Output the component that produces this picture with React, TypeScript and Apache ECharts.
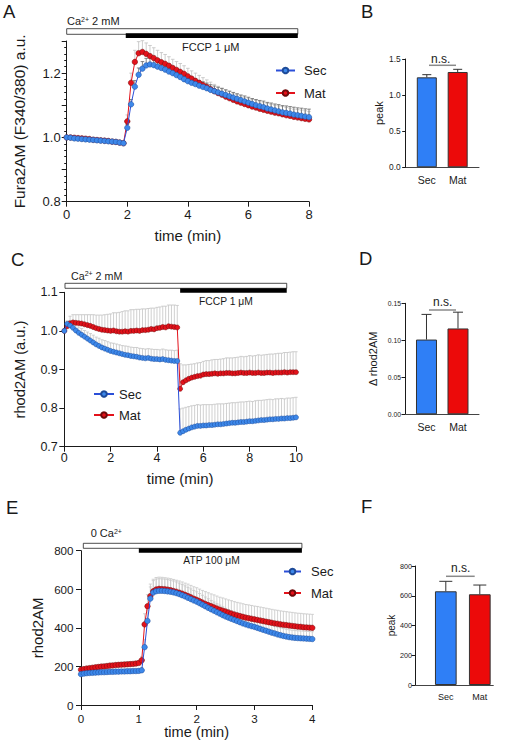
import React, { useEffect, useRef } from "react";
import * as echarts from "echarts";

const FONT = "'Liberation Sans', Arial, Helvetica, sans-serif";
const INK = "#1a1a1a";
const SEC_FILL = "#3d88ea";
const SEC_LINE = "#2b4fd8";
const SEC_EDGE = "#1d4a98";
const MAT_FILL = "#e3121b";
const MAT_LINE = "#e3121b";
const MAT_EDGE = "#6e0a0a";
const BAR_BLUE = "#2f7ff6";
const BAR_RED = "#ec0a0a";

const SERIES_NAMES = ["Sec", "Mat"];
const BAR_CATS = ["Sec", "Mat"];

// ---------- Panel A : Fura2AM, sampled every 0.125 min ----------
const A_T0 = 0;
const A_DT = 0.125;
const A_SEC = [
  1.0, 0.999, 0.997, 0.996, 0.995, 0.994, 0.993, 0.992, 0.991, 0.99, 0.989, 0.988, 0.987, 0.986, 0.984, 0.982,
  1.03, 1.103, 1.158, 1.195, 1.214, 1.224, 1.227, 1.225,
  1.22, 1.216, 1.211, 1.205, 1.2, 1.194, 1.188, 1.181, 1.175,
  1.17, 1.166, 1.161, 1.157, 1.153, 1.148, 1.144, 1.14, 1.136, 1.132, 1.128, 1.124, 1.12, 1.116, 1.112, 1.108,
  1.104, 1.1, 1.097, 1.094, 1.09, 1.087, 1.084, 1.081, 1.078, 1.076, 1.074, 1.071, 1.069, 1.067, 1.065, 1.063,
];
const A_MAT = [
  1.0, 1.0, 0.999, 0.998, 0.997, 0.996, 0.995, 0.993, 0.992, 0.991, 0.99, 0.989, 0.987, 0.986, 0.984, 0.982,
  1.05, 1.17, 1.235, 1.262, 1.266, 1.26, 1.253, 1.247, 1.24, 1.234, 1.229, 1.223, 1.216, 1.21, 1.204, 1.198,
  1.19, 1.183, 1.176, 1.17, 1.163, 1.157, 1.15, 1.144, 1.138, 1.133, 1.127, 1.122, 1.117, 1.112, 1.108, 1.104,
  1.1, 1.096, 1.093, 1.089, 1.086, 1.083, 1.08, 1.077, 1.075, 1.072, 1.069, 1.067, 1.064, 1.062, 1.06, 1.058, 1.056,
];
const A_SEC_ERR = [
  0.003, 0.003, 0.003, 0.003, 0.003, 0.003, 0.003, 0.003, 0.003, 0.003, 0.003, 0.003, 0.003, 0.003, 0.003, 0.003,
  0.01, 0.015, 0.019, 0.021, 0.022, 0.022, 0.022, 0.021, 0.021, 0.02,
  0.02, 0.019, 0.019, 0.018, 0.018, 0.018, 0.017, 0.017, 0.017, 0.016,
  0.016, 0.016, 0.016, 0.016, 0.016, 0.016, 0.016, 0.016, 0.016, 0.016,
  0.016, 0.017, 0.017, 0.017, 0.018, 0.018, 0.019, 0.019, 0.02, 0.02,
  0.021, 0.021, 0.022, 0.022, 0.023, 0.023, 0.024, 0.024, 0.025,
];
const A_MAT_ERR = [
  0.004, 0.004, 0.004, 0.004, 0.004, 0.004, 0.004, 0.004, 0.004, 0.004, 0.004, 0.004, 0.004, 0.004, 0.004, 0.004,
  0.02, 0.03, 0.036, 0.036, 0.035, 0.034, 0.033, 0.032, 0.031, 0.03, 0.029, 0.028, 0.027, 0.026, 0.026, 0.025,
  0.025, 0.024, 0.024, 0.023, 0.023, 0.022, 0.022, 0.021, 0.021,
  0.021, 0.021, 0.021, 0.021, 0.021, 0.021, 0.021, 0.022, 0.022, 0.022, 0.022, 0.022,
  0.023, 0.023, 0.023, 0.023, 0.024, 0.024, 0.024, 0.024, 0.025, 0.025, 0.025, 0.025,
];
const A_Y_LABELS = [0.8, 1.0, 1.2];
const A_STIM = [
  [0, 7.63, 0],
  [1.95, 7.63, 1],
];

// ---------- Panel C : rhod2AM (a.u.), sampled every 0.125 min ----------
const C_T0 = 0;
const C_DT = 0.125;
const C_SEC = [
  1.0, 1.018, 1.014, 1.008, 1.001, 0.995, 0.99, 0.985, 0.98, 0.975,
  0.97, 0.965, 0.961, 0.957, 0.954, 0.951, 0.948, 0.946, 0.944, 0.942,
  0.94, 0.938, 0.937, 0.935, 0.934, 0.933, 0.931, 0.93, 0.929, 0.93,
  0.928, 0.927, 0.927, 0.926, 0.927, 0.925, 0.924, 0.923, 0.922, 0.922,
  0.736, 0.74, 0.744, 0.747, 0.75, 0.752, 0.754, 0.754, 0.755, 0.755,
  0.756, 0.756, 0.757, 0.758, 0.758, 0.759, 0.76, 0.761, 0.762, 0.762,
  0.763, 0.764, 0.764, 0.765, 0.766, 0.766, 0.767, 0.768, 0.769, 0.769,
  0.77, 0.771, 0.771, 0.772, 0.772, 0.773, 0.773, 0.774, 0.774, 0.775, 0.776,
];
const C_MAT = [
  1.0, 1.012, 1.02, 1.022, 1.021, 1.02, 1.019, 1.017, 1.015, 1.013,
  1.01, 1.007, 1.005, 1.003, 1.002, 1.001, 1.0, 1.001, 0.999, 0.998,
  0.998, 0.999, 0.998, 1.0, 1.0, 1.001, 1.0, 1.002, 1.002, 1.003,
  1.005, 1.004, 1.007, 1.008, 1.01, 1.009, 1.012, 1.011, 1.01, 1.009,
  0.85, 0.867, 0.872, 0.876, 0.879, 0.881, 0.883, 0.884, 0.887, 0.888,
  0.888, 0.889, 0.89, 0.889, 0.89, 0.89, 0.891, 0.891, 0.89, 0.89,
  0.891, 0.892, 0.891, 0.891, 0.892, 0.891, 0.891, 0.892, 0.891, 0.891,
  0.892, 0.892, 0.891, 0.892, 0.892, 0.892, 0.893, 0.892, 0.893, 0.893, 0.893,
];
const C_SEC_ERR = [
  0.0, 0.008, 0.011, 0.013, 0.014, 0.015, 0.016, 0.016, 0.017, 0.018,
  0.019, 0.019, 0.02, 0.02, 0.021, 0.021, 0.021, 0.022, 0.022, 0.022,
  0.022, 0.023, 0.023, 0.023, 0.023, 0.024, 0.024, 0.024, 0.024, 0.024,
  0.025, 0.025, 0.025, 0.025, 0.026, 0.026, 0.026, 0.027, 0.027, 0.028,
  0.062, 0.06, 0.058, 0.057, 0.056, 0.055, 0.055, 0.054, 0.054, 0.054,
  0.053, 0.053, 0.053, 0.053, 0.053, 0.052, 0.052, 0.052, 0.052, 0.052,
  0.052, 0.052, 0.052, 0.052, 0.052, 0.051, 0.052, 0.052, 0.051, 0.052,
  0.052, 0.052, 0.051, 0.052, 0.052, 0.052, 0.051, 0.052, 0.052, 0.052, 0.052,
];
const C_MAT_ERR = [
  0.0, 0.012, 0.018, 0.02, 0.021, 0.022, 0.023, 0.025, 0.027, 0.029,
  0.032, 0.034, 0.036, 0.038, 0.04, 0.042, 0.044, 0.046, 0.048, 0.05,
  0.052, 0.053, 0.054, 0.055, 0.055, 0.055, 0.056, 0.055, 0.055, 0.055,
  0.054, 0.055, 0.054, 0.054, 0.054, 0.055, 0.055, 0.056, 0.057, 0.057,
  0.065, 0.045, 0.04, 0.037, 0.035, 0.034, 0.034, 0.034, 0.034, 0.035,
  0.035, 0.036, 0.036, 0.037, 0.037, 0.038, 0.039, 0.039, 0.04, 0.041,
  0.041, 0.042, 0.042, 0.043, 0.044, 0.044, 0.045, 0.046, 0.046, 0.047,
  0.047, 0.048, 0.049, 0.049, 0.05, 0.05, 0.051, 0.052, 0.052, 0.053, 0.053,
];
const C_STIM = [
  [0.03, 9.6, 0],
  [5.0, 9.6, 1],
];

// ---------- Panel E : rhod2AM, sampled every 0.05 min ----------
const E_T0 = 0;
const E_DT = 0.05;
const E_SEC = [
  160, 163, 165, 166, 167, 168, 169, 170, 170, 171,
  172, 172, 173, 173, 174, 174, 175, 175, 176, 176,
  177, 180, 300, 436, 552, 583, 590, 592, 592, 591,
  589, 587, 584, 580, 575, 569, 563, 556, 549, 542,
  536, 528, 520, 512, 504, 496, 489, 481, 474, 466,
  459, 453, 447, 441, 435, 429, 423, 418, 413, 409,
  405, 400, 395, 390, 385, 380, 375, 371, 366, 362,
  358, 355, 352, 350, 348, 347, 346, 345, 344, 343, 342,
];
const E_MAT = [
  183, 186, 189, 191, 193, 195, 197, 199, 200, 202,
  204, 205, 207, 208, 209, 210, 211, 212, 213, 215,
  218, 232, 418, 512, 565, 590, 599, 602, 601, 600,
  598, 595, 591, 587, 582, 577, 571, 565, 558, 551,
  545, 538, 531, 524, 518, 512, 506, 500, 494, 489,
  484, 479, 474, 469, 465, 461, 457, 453, 450, 447,
  444, 441, 438, 435, 432, 429, 426, 423, 421, 418,
  416, 414, 412, 410, 408, 406, 405, 403, 402, 401, 400,
];
const E_SEC_ERR = [
  10, 10, 10, 10, 10, 10, 10, 10, 10, 10,
  10, 10, 10, 10, 10, 10, 10, 10, 10, 10,
  10, 15, 40, 55, 60, 62, 63, 63, 62, 62,
  61, 60, 59, 58, 57, 56, 55, 54, 53, 52,
  51, 50, 49, 48, 47, 46, 45, 44, 44, 43,
  42, 42, 41, 41, 40, 40, 40, 39, 39, 39,
  38, 38, 38, 38, 38, 38, 38, 38, 38, 38,
  38, 38, 38, 38, 38, 38, 38, 38, 38, 38, 38,
];
const E_MAT_ERR = [
  12, 12, 12, 12, 12, 12, 12, 12, 12, 12,
  12, 12, 12, 12, 12, 12, 12, 12, 12, 12,
  12, 20, 55, 60, 62, 62, 62, 61, 61, 60,
  60, 60, 60, 60, 61, 61, 61, 62, 62, 62,
  63, 63, 63, 64, 64, 64, 65, 65, 65, 66,
  66, 66, 67, 67, 67, 68, 68, 68, 69, 69,
  69, 70, 70, 70, 70, 70, 70, 70, 70, 70,
  70, 70, 70, 70, 70, 70, 70, 70, 70, 70, 70,
];
const E_STIM = [
  [0.04, 3.82, 0],
  [1.0, 3.82, 1],
];

// ---------- Bar panels (mean, upper SEM) ----------
const B_PEAK = [1.246, 1.32];
const B_ERR = [0.037, 0.037];
const D_DELTA = [0.101, 0.116];
const D_ERR = [0.034, 0.022];
const F_PEAK = [630, 610];
const F_ERR = [67, 62];

// ---------- helpers ----------
function times(n: number, t0: number, dt: number) {
  return Array.from({ length: n }, (_, i) => +(t0 + i * dt).toFixed(4));
}
function pts(ts: number[], vs: number[]) {
  return vs.map((v, i) => [ts[i], v]);
}
function errPts(ts: number[], vs: number[], es: number[]) {
  return vs.map((v, i) => [ts[i], v, es[i]]);
}

function trace(name: string, gi: number, data: any[], fill: string, line: string, edge: string, size: number, z: number) {
  return {
    type: "line",
    name,
    xAxisIndex: gi,
    yAxisIndex: gi,
    data,
    symbol: "circle",
    symbolSize: size,
    showSymbol: true,
    showAllSymbol: true,
    lineStyle: { color: line, width: 1 },
    itemStyle: { color: fill, borderColor: edge, borderWidth: 0.5 },
    emphasis: { disabled: true },
    silent: true,
    z,
  };
}

function errSeries(gi: number, data: any[], color: string, cap: number, width: number, z: number) {
  return {
    type: "custom",
    xAxisIndex: gi,
    yAxisIndex: gi,
    data,
    z,
    silent: true,
    encode: { x: 0, y: 1 },
    renderItem: (_p: any, api: any) => {
      const x = api.value(0);
      const v = api.value(1);
      const e = api.value(2);
      const p0 = api.coord([x, v]);
      const p1 = api.coord([x, v + e]);
      return {
        type: "group",
        children: [
          { type: "line", shape: { x1: p0[0], y1: p0[1], x2: p1[0], y2: p1[1] }, style: { stroke: color, lineWidth: width } },
          { type: "line", shape: { x1: p1[0] - cap, y1: p1[1], x2: p1[0] + cap, y2: p1[1] }, style: { stroke: color, lineWidth: width } },
        ],
      };
    },
  };
}

function stimSeries(gi: number, yMax: number, data: number[][], geo: { oOff: number; oH: number; sOff: number; sH: number }) {
  return {
    type: "custom",
    xAxisIndex: gi,
    yAxisIndex: gi,
    data,
    z: 5,
    silent: true,
    clip: false,
    encode: { x: [0, 1] },
    renderItem: (_p: any, api: any) => {
      const from = api.value(0);
      const to = api.value(1);
      const kind = api.value(2);
      const a = api.coord([from, yMax]);
      const b = api.coord([to, yMax]);
      if (kind === 0) {
        return {
          type: "rect",
          shape: { x: a[0], y: a[1] + geo.oOff, width: b[0] - a[0], height: geo.oH },
          style: { fill: "#ffffff", stroke: "#222", lineWidth: 0.8 },
        };
      }
      return {
        type: "rect",
        shape: { x: a[0], y: a[1] + geo.sOff, width: b[0] - a[0], height: geo.sH },
        style: { fill: "#000000" },
      };
    },
  };
}

function axisLine() {
  return { show: true, onZero: false, lineStyle: { color: INK, width: 1 } };
}

function timeAxis(gi: number, max: number, interval: number, fs: number, margin: number, nameGap: number, nameSize: number) {
  return {
    type: "value",
    gridIndex: gi,
    min: 0,
    max,
    interval,
    name: "time (min)",
    nameLocation: "middle",
    nameGap,
    nameTextStyle: { fontSize: nameSize, color: INK, fontFamily: FONT, fontWeight: "normal" },
    axisLine: axisLine(),
    axisTick: { show: true, length: 5, lineStyle: { color: INK } },
    axisLabel: { fontSize: fs, color: INK, fontFamily: FONT, margin },
    splitLine: { show: false },
  };
}

function valueYAxis(gi: number, min: number, max: number, interval: number, fs: number, margin: number, digits: number, name: string, nameGap: number, nameSize: number, tickLen: number) {
  return {
    type: "value",
    gridIndex: gi,
    min,
    max,
    interval,
    name,
    nameLocation: "middle",
    nameGap,
    nameTextStyle: { fontSize: nameSize, color: INK, fontFamily: FONT, fontWeight: "normal" },
    axisLine: axisLine(),
    axisTick: { show: true, length: tickLen, lineStyle: { color: INK } },
    axisLabel: { fontSize: fs, color: INK, fontFamily: FONT, margin, formatter: (v: number) => v.toFixed(digits) },
    splitLine: { show: false },
  };
}

function catAxis(gi: number, min: number, max: number, fs: number, margin: number) {
  return {
    type: "value",
    gridIndex: gi,
    min,
    max,
    axisLine: { show: true, onZero: false, lineStyle: { color: "#444", width: 1 } },
    axisTick: { show: false },
    axisLabel: {
      customValues: [1, 2],
      fontSize: fs,
      color: INK,
      fontFamily: FONT,
      margin,
      formatter: (v: number) => BAR_CATS[Math.round(v) - 1] || "",
    },
    splitLine: { show: false },
  };
}

function barSeries(gi: number, vals: number[], width: number) {
  return {
    type: "bar",
    xAxisIndex: gi,
    yAxisIndex: gi,
    barWidth: width,
    silent: true,
    z: 2,
    data: vals.map((v, i) => ({ value: [i + 1, v], itemStyle: { color: i === 0 ? BAR_BLUE : BAR_RED } })),
    itemStyle: { borderColor: "#333", borderWidth: 1 },
  };
}

function label(x: number, y: number, text: string, fs: number, align = "left", rich?: any) {
  return {
    type: "text",
    x,
    y,
    silent: true,
    style: { text, fontSize: fs, fontFamily: FONT, fill: INK, align, verticalAlign: "middle", rich },
  };
}

function nsLine(x1: number, x2: number, y: number) {
  return { type: "line", silent: true, shape: { x1, y1: y, x2, y2: y }, style: { stroke: "#8a8a8a", lineWidth: 1.5 } };
}

const SUP = { sup: { fontSize: 7, verticalAlign: "top", fontFamily: FONT, fill: INK } };

export default function App() {
  const ref = useRef<HTMLDivElement>(null);

  useEffect(() => {
    if (!ref.current) return;
    const chart = echarts.init(ref.current, null, { renderer: "svg" });

    const tA = times(A_SEC.length, A_T0, A_DT);
    const tC = times(C_SEC.length, C_T0, C_DT);
    const tE = times(E_SEC.length, E_T0, E_DT);

    const aYAxis: any = valueYAxis(0, 0.8, 1.3, 0.1, 13, 6, 1, "Fura2AM (F340/380) a.u.", 39, 15.5, 5);
    aYAxis.axisLabel.formatter = (v: number) => (A_Y_LABELS.some((l) => Math.abs(l - v) < 1e-6) ? v.toFixed(1) : "");
    aYAxis.minorTick = { show: true, splitNumber: 5, length: 2.5, lineStyle: { color: INK } };

    const option: any = {
      animation: false,
      backgroundColor: "#ffffff",
      textStyle: { fontFamily: FONT },
      grid: [
        { left: 66.7, top: 41, width: 242.3, height: 160.7, containLabel: false, outerBoundsMode: "none" },
        { left: 405.7, top: 59, width: 73.3, height: 108.3, containLabel: false, outerBoundsMode: "none" },
        { left: 64.3, top: 292.3, width: 231.7, height: 154.4, containLabel: false, outerBoundsMode: "none" },
        { left: 405, top: 303.3, width: 74, height: 111, containLabel: false, outerBoundsMode: "none" },
        { left: 81, top: 550.7, width: 231.3, height: 154.3, containLabel: false, outerBoundsMode: "none" },
        { left: 415, top: 566, width: 78.3, height: 119, containLabel: false, outerBoundsMode: "none" },
      ],
      xAxis: [
        timeAxis(0, 8, 2, 13, 6, 26.5, 15),
        catAxis(1, 0.316, 2.691, 10.5, 7),
        timeAxis(2, 10, 2, 12.5, 5, 24.5, 15),
        catAxis(3, 0.3176, 2.667, 10.5, 7),
        timeAxis(4, 4, 1, 11.6, 7, 19.5, 14.6),
        catAxis(5, 0.094, 2.397, 9, 7),
      ],
      yAxis: [
        aYAxis,
        valueYAxis(1, 0, 1.5, 0.5, 8.4, 5, 1, "peak", 21, 11, 3.5),
        valueYAxis(2, 0.7, 1.1, 0.1, 12.5, 6.5, 1, "rhod2AM (a.u.)", 37, 14.7, 5),
        valueYAxis(3, 0, 0.15, 0.05, 6.8, 4, 2, "Δ rhod2AM", 27, 11, 3.5),
        valueYAxis(4, 0, 800, 200, 11.6, 7.5, 0, "rhod2AM", 36, 15, 5),
        valueYAxis(5, 0, 800, 200, 7.2, 3, 0, "peak", 17.5, 10, 3.5),
      ],
      legend: [
        {
          data: SERIES_NAMES, orient: "vertical", left: 275, top: 64, padding: 0, itemWidth: 19, itemHeight: 7, itemGap: 9.5,
          textStyle: { fontSize: 13, color: INK, fontFamily: FONT, padding: [0, 0, 0, 4] }, selectedMode: false,
        },
        {
          data: SERIES_NAMES, orient: "vertical", left: 93, top: 387.5, padding: 0, itemWidth: 20, itemHeight: 7, itemGap: 8,
          textStyle: { fontSize: 13, color: INK, fontFamily: FONT }, selectedMode: false,
        },
        {
          data: SERIES_NAMES, orient: "vertical", left: 283, top: 565, padding: 0, itemWidth: 17, itemHeight: 7, itemGap: 8.5,
          textStyle: { fontSize: 13, color: INK, fontFamily: FONT, padding: [0, 0, 0, 5] }, selectedMode: false,
        },
      ],
      series: [
        // Panel A
        errSeries(0, errPts(tA, A_MAT, A_MAT_ERR), "#c2c2c2", 1.8, 0.8, 1),
        errSeries(0, errPts(tA, A_SEC, A_SEC_ERR), "#6a6a6a", 1.8, 0.8, 1),
        trace("Mat", 0, pts(tA, A_MAT), MAT_FILL, MAT_LINE, MAT_EDGE, 5.5, 2),
        trace("Sec", 0, pts(tA, A_SEC), SEC_FILL, SEC_LINE, SEC_EDGE, 5.5, 3),
        stimSeries(0, 1.3, A_STIM, { oOff: -12.3, oH: 5.6, sOff: -7.7, sH: 4.7 }),
        // Panel B
        barSeries(1, B_PEAK, 20),
        errSeries(1, errPts([1, 2], B_PEAK, B_ERR), "#333", 4.5, 1, 3),
        // Panel C
        errSeries(2, errPts(tC, C_MAT, C_MAT_ERR), "#c4c4c4", 1.6, 0.8, 1),
        errSeries(2, errPts(tC, C_SEC, C_SEC_ERR), "#c4c4c4", 1.6, 0.8, 1),
        trace("Mat", 2, pts(tC, C_MAT), MAT_FILL, MAT_LINE, MAT_EDGE, 5, 2),
        trace("Sec", 2, pts(tC, C_SEC), SEC_FILL, SEC_LINE, SEC_EDGE, 5, 3),
        stimSeries(2, 1.1, C_STIM, { oOff: -9, oH: 5, sOff: -4, sH: 4.4 }),
        // Panel D
        barSeries(3, D_DELTA, 21),
        errSeries(3, errPts([1, 2], D_DELTA, D_ERR), "#333", 5, 1, 3),
        // Panel E
        errSeries(4, errPts(tE, E_MAT, E_MAT_ERR), "#c8c8c8", 1.6, 0.8, 1),
        errSeries(4, errPts(tE, E_SEC, E_SEC_ERR), "#c8c8c8", 1.6, 0.8, 1),
        trace("Mat", 4, pts(tE, E_MAT), MAT_FILL, MAT_LINE, MAT_EDGE, 5.5, 2),
        trace("Sec", 4, pts(tE, E_SEC), SEC_FILL, SEC_LINE, SEC_EDGE, 5.5, 3),
        stimSeries(4, 800, E_STIM, { oOff: -7.4, oH: 5, sOff: -2.4, sH: 4.4 }),
        // Panel F
        barSeries(5, F_PEAK, 21.7),
        errSeries(5, errPts([1, 2], F_PEAK, F_ERR), "#333", 6.5, 1, 3),
      ],
      graphic: [
        label(3, 11.7, "A", 18.5),
        label(361, 11.2, "B", 18.5),
        label(11, 259, "C", 18.5),
        label(359, 258.3, "D", 18.5),
        label(6, 507.5, "E", 18.5),
        label(361, 506.7, "F", 18.5),
        label(67, 21, "Ca{sup|2+} 2 mM", 11, "left", SUP),
        label(182, 46.7, "FCCP 1 μM", 11),
        label(71, 275.5, "Ca{sup|2+} 2 mM", 10.7, "left", SUP),
        label(199, 301.3, "FCCP 1 μM", 10.3),
        label(90.7, 533.3, "0 Ca{sup|2+}", 11, "left", SUP),
        label(183.3, 560, "ATP 100 μM", 10.3),
        label(440.7, 59, "n.s.", 12, "center"),
        nsLine(429, 456, 65.3),
        label(442.7, 302, "n.s.", 12, "center"),
        nsLine(429, 456, 310),
        label(460.7, 568, "n.s.", 12, "center"),
        nsLine(446, 474.7, 576.3),
      ],
    };

    chart.setOption(option);
    return () => chart.dispose();
  }, []);

  return <div ref={ref} style={{ position: "absolute", left: 0, top: 0, width: 506, height: 750, background: "#fff" }} />;
}
